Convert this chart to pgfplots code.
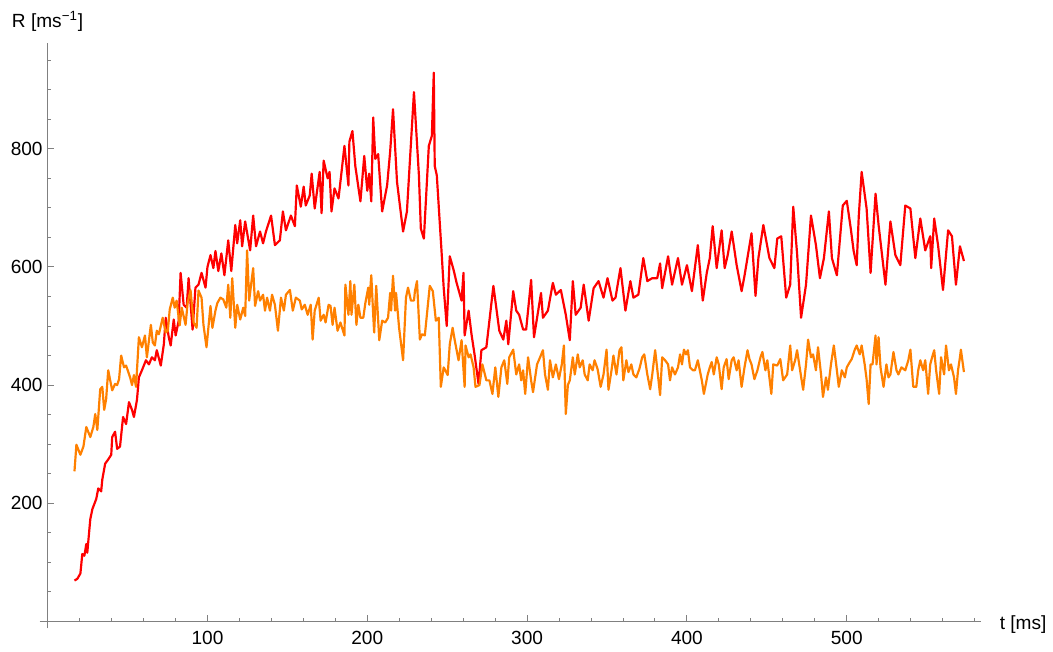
\documentclass[border=0pt]{standalone}
\usepackage{fontspec}
\setmainfont{Liberation Sans}
\usepackage{pgfplots}
\usepackage{pgfplotstable}
\pgfplotsset{compat=1.18}
\definecolor{mred}{rgb}{1,0,0}
\definecolor{morange}{rgb}{1,0.5,0}
\definecolor{axgray}{gray}{0.5}

\pgfplotstableread{
x y
16.8 69
18.6 72
20.5 81
21.7 114
23.0 111
24.2 131
24.8 116
26.7 173
28.0 190
30.4 207
31.7 225
33.5 220
34.2 240
36.0 267
37.9 274
39.8 282
40.4 312
42.2 321
43.5 292
45.3 296
47.2 346
49.1 334
50.9 371
52.8 358
54.0 346
55.9 375
57.1 413
59.0 425
61.5 442
63.4 435
65.2 447
67.1 442
68.3 459
70.8 433
72.7 469
73.9 514
75.8 481
77.0 467
78.9 511
80.1 484
82.0 509
83.2 590
85.1 536
87.0 531
88.2 581
90.7 494
92.5 565
94.4 570
96.3 590
98.8 565
100.0 600
101.9 620
103.7 598
105.0 627
106.8 593
108.7 623
110.6 586
113.0 645
114.9 593
117.4 671
118.6 640
120.5 679
121.7 635
123.6 677
126.7 628
128.6 687
130.4 635
132.9 660
134.8 640
136.6 660
139.8 687
142.2 637
145.3 645
147.2 694
149.1 662
152.2 687
154.7 669
155.9 738
158.4 702
160.2 736
161.5 704
164.0 721
165.2 758
167.1 699
170.2 761
171.4 691
172.7 780
175.2 750
176.4 761
177.6 694
179.5 733
182.0 716
183.9 761
185.7 805
188.2 738
188.8 812
190.7 830
192.5 771
195.7 711
198.1 788
200.0 729
201.2 758
202.5 711
203.7 853
205.0 783
206.8 791
209.3 694
212.4 738
214.3 795
216.1 867
218.6 744
222.4 660
224.8 694
229.2 896
232.3 755
233.5 665
235.4 648
238.5 805
240.4 822
241.6 929
242.2 771
243.5 755
246.6 620
247.8 565
249.7 500
251.6 618
254.0 595
255.9 573
259.0 543
260.2 590
260.9 484
263.4 526
265.2 486
267.1 452
269.6 402
271.4 459
274.5 464
278.9 568
280.7 531
282.6 492
285.1 477
287.0 509
288.2 469
291.3 559
293.2 526
295.0 519
297.5 494
299.4 494
302.5 578
304.3 481
308.7 556
309.9 514
313.0 526
316.1 573
318.0 553
321.1 561
324.2 519
326.7 476
328.6 576
330.4 519
333.5 531
335.4 570
338.5 509
341.6 564
344.7 576
347.8 548
350.3 581
353.4 543
355.3 548
358.4 598
361.5 526
364.6 576
366.5 548
369.6 553
372.7 615
375.2 576
378.3 581
381.4 581
383.2 606
384.5 564
388.2 618
390.7 570
394.4 615
396.9 570
400.0 603
403.1 559
406.8 637
409.9 543
412.4 590
414.3 615
416.1 669
418.6 598
421.7 662
423.6 598
425.5 620
428.0 660
431.1 603
434.2 559
436.0 585
440.4 657
442.9 551
444.7 615
447.8 671
451.6 615
454.7 598
456.5 648
459.0 652
462.1 548
464.6 570
466.5 702
468.9 623
471.4 514
474.5 570
477.6 687
480.7 637
483.2 581
485.7 615
488.8 694
490.7 615
493.8 586
497.5 704
500.0 712
502.5 665
504.3 627
506.2 603
507.5 686
509.3 761
512.4 699
514.9 590
518.0 724
519.9 671
524.2 570
527.3 677
530.4 620
533.5 603
536.6 704
539.8 699
542.9 615
546.0 682
549.1 628
552.2 652
552.8 598
554.7 682
557.1 637
560.2 561
563.4 662
565.8 652
568.3 570
570.8 635
573.3 610
}\redtable

\pgfplotstableread{
x y
16.8 254
18.0 299
20.5 282
22.4 296
24.2 329
26.7 312
28.6 329
29.8 351
31.1 324
32.9 393
34.2 397
35.4 358
36.6 376
37.9 425
40.4 391
42.2 402
43.5 400
44.7 410
46.0 450
47.8 430
49.1 433
51.6 413
52.8 400
54.0 417
55.3 397
57.1 481
59.0 464
60.9 484
62.1 447
64.6 502
65.8 472
67.1 467
68.3 492
69.6 486
72.0 514
73.9 489
75.2 492
76.4 528
78.3 548
79.5 531
80.7 543
82.6 501
83.9 531
86.3 502
87.6 539
89.4 561
91.3 506
93.2 497
94.4 560
96.3 548
97.5 502
99.4 464
101.9 534
103.1 497
105.0 526
106.2 539
108.1 548
109.9 545
111.8 531
113.0 570
114.3 514
115.5 581
117.4 497
118.6 536
120.5 511
122.4 531
123.6 517
124.8 628
126.1 543
127.3 570
128.6 598
129.8 534
131.7 559
132.9 543
134.8 553
136.0 526
137.3 548
139.1 526
140.4 553
142.2 536
144.1 492
146.0 548
147.8 526
149.1 553
151.6 561
153.4 526
155.3 548
157.8 543
159.0 528
160.9 536
162.7 519
164.6 536
165.8 477
167.1 526
169.6 548
170.8 509
172.7 519
173.9 506
175.8 536
177.0 534
178.3 502
179.5 531
181.4 492
183.2 506
185.7 484
186.3 570
188.2 519
189.4 576
190.1 519
191.9 570
193.2 502
194.4 536
195.7 514
197.5 514
198.8 539
200.6 565
201.2 536
202.5 586
203.7 519
204.3 489
205.6 568
207.5 476
209.3 509
211.2 506
213.0 514
214.3 556
214.9 526
216.1 585
217.4 526
218.0 556
219.9 497
222.4 442
224.2 548
225.5 565
227.3 543
229.2 543
229.8 559
231.1 576
232.9 477
234.2 486
236.0 484
239.1 568
241.0 559
242.9 509
244.7 514
246.0 397
247.8 430
250.3 417
251.6 469
253.4 497
254.7 476
257.1 442
259.0 476
260.9 397
261.5 467
263.4 447
264.6 452
266.5 430
267.7 397
270.2 400
272.0 435
274.5 408
276.4 408
278.3 385
280.1 430
282.0 380
283.9 430
285.7 442
287.6 402
288.8 447
291.3 460
293.2 418
295.0 435
296.3 408
297.5 425
298.8 385
300.6 447
302.5 408
303.7 388
306.2 435
308.1 447
309.9 459
311.2 418
313.0 392
314.3 442
316.1 413
318.0 435
319.9 410
321.7 435
323.0 467
324.2 351
325.5 400
326.7 408
328.6 447
329.8 418
331.7 452
332.9 430
334.8 442
336.0 418
337.9 408
339.1 435
341.0 425
342.2 442
344.1 427
346.0 397
347.8 418
349.7 460
350.9 392
352.8 425
354.0 450
355.9 418
357.8 459
359.0 464
360.2 408
362.1 442
363.4 422
365.2 435
366.5 418
368.3 413
370.2 427
372.0 447
373.3 452
375.2 418
377.0 393
378.3 418
380.1 459
382.0 413
383.2 383
384.5 447
386.3 442
388.2 435
389.4 408
390.7 430
392.5 418
394.4 430
395.7 452
396.9 435
398.1 460
399.4 452
400.6 459
401.9 430
403.7 425
405.0 425
406.8 442
409.3 408
410.6 385
413.0 418
414.3 430
415.5 439
416.8 418
418.6 447
419.9 435
421.7 393
423.0 430
424.8 444
426.1 410
428.0 442
429.2 447
431.1 425
432.3 442
434.2 397
436.0 430
437.9 459
439.1 444
440.4 435
442.2 410
444.1 425
446.0 447
447.2 456
449.1 425
450.3 442
452.8 385
454.0 435
456.5 433
458.4 444
460.2 408
462.7 418
464.6 467
465.8 425
467.7 442
468.9 459
470.8 425
472.7 392
474.5 435
475.8 477
477.6 447
478.9 452
480.7 425
482.0 464
483.9 418
485.1 380
487.0 413
488.2 392
490.1 435
491.9 467
493.8 425
495.0 397
496.9 425
498.8 413
500.0 430
501.9 439
503.1 444
505.0 460
506.2 467
508.1 452
509.3 467
511.2 435
512.4 410
513.7 368
514.9 435
516.1 435
518.0 484
518.6 435
519.9 481
521.1 430
523.0 397
524.8 435
526.1 413
527.3 418
529.2 456
531.1 425
532.3 418
534.2 430
536.6 425
538.5 442
539.8 460
541.6 397
543.5 397
544.7 425
546.0 442
547.8 425
549.1 442
550.9 385
552.2 435
553.4 447
554.7 459
555.9 425
557.8 385
559.0 447
560.9 418
562.1 467
563.9 425
565.2 435
567.1 413
568.3 385
569.6 425
570.8 447
571.4 460
573.3 422
}\orangetable

\begin{document}
\begin{tikzpicture}
\begin{axis}[
  scale only axis,
  width=474.1pt, height=295.1pt,
  xmin=-5, xmax=583.9, ymin=-12, ymax=980,
  axis x line*=middle, axis y line*=middle,
  axis line style={axgray, line width=0.6pt},
  xtick={100,200,300,400,500},
  ytick={200,400,600,800},
  minor xtick={20,40,60,80,120,140,160,180,220,240,260,280,320,340,360,380,420,440,460,480,520,540,560,580},
  minor ytick={50,100,150,250,300,350,450,500,550,650,700,750,850,900,950},
  tick style={axgray, line width=0.5pt},
  major tick length=3.2pt, minor tick length=1.8pt,
  tick align=inside,
  ticklabel style={font=\fontsize{9.6}{11}\selectfont, text=black},
  /pgf/number format/assume math mode=true,
  xticklabel style={yshift=-1.5pt},
  yticklabel style={xshift=1pt},
  clip=false,
]
\addplot[mred, line width=1.1pt, line join=round] table[x=x,y=y] {\redtable};
\addplot[morange, line width=1.1pt, line join=round] table[x=x,y=y] {\orangetable};
\node[anchor=base, font=\fontsize{9.6}{11}\selectfont, yshift=7.5pt] at (axis cs:0,980) {R [ms\textsuperscript{−1}]};
\node[anchor=base west, font=\fontsize{9.6}{11}\selectfont, xshift=6pt, yshift=-4pt] at (axis cs:583.9,0) {t [ms]};
\path (axis cs:-29.8,-45.4) rectangle (axis cs:624.2,1052);
\end{axis}
\end{tikzpicture}
\end{document}
